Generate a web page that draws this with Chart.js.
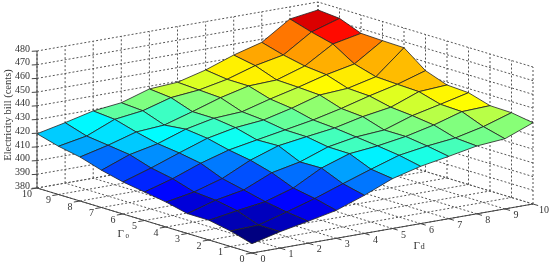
<!DOCTYPE html>
<html>
<head>
<meta charset="utf-8">
<title>Electricity bill</title>
<script src="https://cdn.jsdelivr.net/npm/chart.js"></script>
<style>
  html, body { margin: 0; padding: 0; background: #fff; }
  canvas { display: block; }
</style>
</head>
<body>
<canvas id="grafica" width="550" height="264"></canvas>
<script>
// values
const gamma0Ticks = [0, 1, 2, 3, 4, 5, 6, 7, 8, 9, 10];
const gammaDTicks = [0, 1, 2, 3, 4, 5, 6, 7, 8, 9, 10];
const billTicks = [380, 390, 400, 410, 420, 430, 440, 450, 460, 470, 480];

// one row per gamma0, one column per gammaD
const billG0 = [386.8, 392.0, 396.0, 400.4, 407.8, 416.4, 421.8, 425.5, 429.5, 431.2, 439.3];
const billG1 = [391.3, 392.1, 398.0, 404.3, 411.5, 418.5, 425.1, 428.3, 430.6, 435.3, 441.9];
const billG2 = [394.4, 397.8, 400.8, 407.2, 418.2, 425.1, 427.2, 430.5, 435.3, 441.5, 442.3];
const billG3 = [394.5, 400.7, 404.6, 413.6, 417.9, 425.3, 429.0, 430.5, 437.4, 442.1, 447.0];
const billG4 = [398.2, 402.0, 408.2, 418.0, 425.0, 428.0, 430.8, 435.5, 438.8, 446.6, 447.9];
const billG5 = [400.8, 406.9, 414.6, 420.7, 424.5, 428.2, 431.9, 436.7, 442.3, 447.2, 453.6];
const billG6 = [403.4, 410.0, 417.4, 424.5, 428.7, 430.7, 435.7, 441.8, 443.1, 448.0, 465.6];
const billG7 = [407.2, 415.0, 419.4, 426.4, 430.8, 432.0, 437.7, 442.7, 448.3, 452.6, 466.0];
const billG8 = [412.1, 417.1, 423.2, 424.7, 430.9, 437.5, 442.5, 443.3, 449.9, 462.4, 466.6];
const billG9 = [415.2, 419.1, 427.7, 430.4, 436.4, 438.4, 442.6, 449.0, 453.2, 466.4, 472.8];
const billG10 = [419.6, 424.1, 429.1, 431.5, 438.0, 439.3, 444.7, 452.0, 457.7, 471.2, 474.2];
const bills = [billG0, billG1, billG2, billG3, billG4, billG5, billG6, billG7, billG8, billG9, billG10];

const zBase = billTicks[0];
const zTop = billTicks[billTicks.length - 1];
const gMax = gamma0Ticks[gamma0Ticks.length - 1];
const dMax = gammaDTicks[gammaDTicks.length - 1];

// fixed orthographic view, x/y scales below are in these view units
function view(g, d, z) {
  return { x: 28.1 * d - 21.5 * g, y: 4.9 * d + 6.5 * g + 1.37 * (z - zBase) };
}

// matlab jet
function jet(t) {
  const c = v => Math.round(255 * Math.max(0, Math.min(1, v)));
  return `rgb(${c(1.5 - Math.abs(4 * t - 3))},${c(1.5 - Math.abs(4 * t - 2))},${c(1.5 - Math.abs(4 * t - 1))})`;
}

const allBills = bills.flat();
const billMin = Math.min(...allBills);
const billMax = Math.max(...allBills);

function lineSet(points, color, width, dash) {
  return {
    data: points, showLine: true, fill: false, pointRadius: 0, tension: 0,
    borderColor: color, borderWidth: width, borderDash: dash || []
  };
}

const datasets = [];
const GRID = '#555';
const AXIS = '#444';
const DASH = [2, 2];

// 1. axes and tick marks (first dataset is painted last)
datasets.push(lineSet([view(gMax, 0, zBase), view(gMax, 0, zTop)], AXIS, 1));
datasets.push(lineSet([view(gMax, 0, zBase), view(0, 0, zBase), view(0, dMax, zBase)], AXIS, 1));
billTicks.forEach(z => datasets.push(lineSet([view(gMax, 0, z), view(gMax + 0.06, -0.14, z)], AXIS, 1)));
gamma0Ticks.forEach(g => datasets.push(lineSet([view(g, 0, zBase), view(g, -0.22, zBase)], AXIS, 1)));
gammaDTicks.forEach(d => datasets.push(lineSet([view(0, d, zBase), view(-0.24, d, zBase)], AXIS, 1)));

// 2. surface cells, front to back so the back ones get covered
for (let g = 0; g < gamma0Ticks.length - 1; g++) {
  for (let d = 0; d < gammaDTicks.length - 1; d++) {
    const c = view(g, d, bills[g][d]);
    datasets.push({
      data: [c, view(g, d + 1, bills[g][d + 1]), view(g + 1, d + 1, bills[g + 1][d + 1]), view(g + 1, d, bills[g + 1][d]), c],
      showLine: true, fill: 'shape', pointRadius: 0, tension: 0,
      backgroundColor: jet((bills[g][d] - billMin) / (billMax - billMin)),
      borderColor: '#222', borderWidth: 0.8
    });
  }
}

// 3. dotted grid on the floor and the two back walls
gamma0Ticks.forEach(g => {
  datasets.push(lineSet([view(g, 0, zBase), view(g, dMax, zBase)], GRID, 1, DASH));
  datasets.push(lineSet([view(g, dMax, zBase), view(g, dMax, zTop)], GRID, 1, DASH));
});
gammaDTicks.forEach(d => {
  datasets.push(lineSet([view(0, d, zBase), view(gMax, d, zBase)], GRID, 1, DASH));
  datasets.push(lineSet([view(gMax, d, zBase), view(gMax, d, zTop)], GRID, 1, DASH));
});
billTicks.forEach(z => {
  datasets.push(lineSet([view(gMax, 0, z), view(gMax, dMax, z), view(0, dMax, z)], GRID, 1, DASH));
});

// tick labels and titles
const textPlugin = {
  id: 'textos',
  afterDraw(chart) {
    const { ctx, scales } = chart;
    const px = p => ({ x: scales.x.getPixelForValue(p.x), y: scales.y.getPixelForValue(p.y) });
    const FONT = '"Liberation Serif", serif';
    ctx.save();
    ctx.fillStyle = '#333';
    ctx.textBaseline = 'middle';
    ctx.font = '10px ' + FONT;

    ctx.textAlign = 'right';
    billTicks.forEach(z => {
      const p = px(view(gMax, 0, z));
      ctx.fillText(String(z), p.x - 7, p.y - 2);
    });

    ctx.textAlign = 'center';
    gamma0Ticks.forEach(g => {
      const p = px(view(g, 0, zBase));
      ctx.fillText(String(g), p.x - 10, p.y + 6);
    });
    gammaDTicks.forEach(d => {
      const p = px(view(0, d, zBase));
      ctx.fillText(String(d), p.x + 11, p.y + 6.5);
    });

    // axis titles
    const a = px(view(gMax / 2, 0, zBase));
    const b = px(view(0, dMax / 2, zBase));
    ctx.textAlign = 'left';
    ctx.font = '11px ' + FONT;
    ctx.fillText('Γ', a.x - 27, a.y + 14);
    ctx.fillText('Γ', b.x + 21, b.y + 17.5);
    ctx.font = '7px ' + FONT;
    ctx.fillText('0', a.x - 19, a.y + 15.5);
    ctx.font = '8.5px ' + FONT;
    ctx.fillText('d', b.x + 28, b.y + 18.5);

    ctx.translate(8, 115);
    ctx.rotate(-Math.PI / 2);
    ctx.textAlign = 'center';
    ctx.font = '10.5px ' + FONT;
    ctx.fillText('Electricity bill (cents)', 0, 0);
    ctx.restore();
  }
};

new Chart(document.getElementById('grafica'), {
  type: 'scatter',
  data: { datasets },
  options: {
    responsive: false,
    animation: false,
    devicePixelRatio: 1,
    layout: { padding: 0 },
    plugins: { legend: { display: false }, tooltip: { enabled: false } },
    scales: {
      x: { type: 'linear', display: false, min: -252, max: 298 },
      y: { type: 'linear', display: false, min: -11, max: 253 }
    }
  },
  plugins: [textPlugin]
});
</script>
</body>
</html>
